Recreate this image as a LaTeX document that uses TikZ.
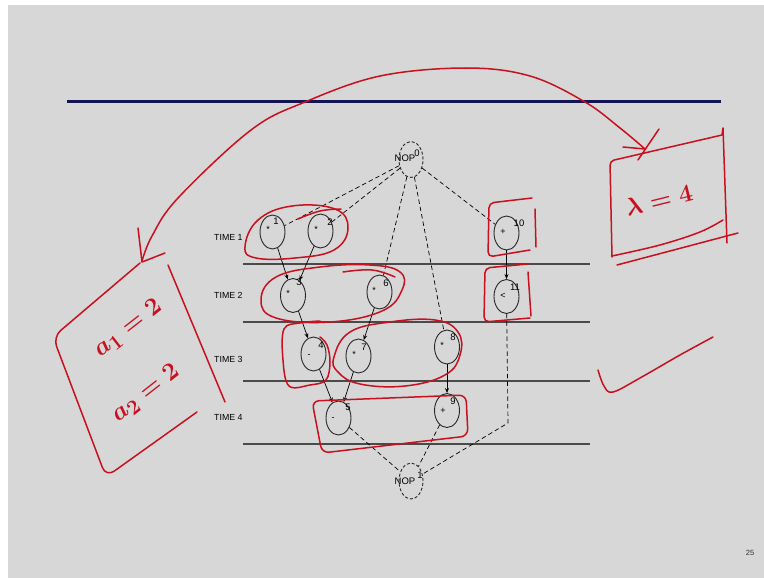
\documentclass[tikz,border=0pt]{standalone}
\usepackage{fontspec}
\setmainfont{Liberation Sans}
\usetikzlibrary{shapes.geometric,arrows.meta}
\definecolor{slide}{HTML}{D7D7D7}
\definecolor{inkred}{HTML}{C8101E}
\definecolor{rulecol}{HTML}{141452}
\definecolor{gridcol}{HTML}{4A4A4A}
\begin{document}
\begin{tikzpicture}[x=1pt,y=-1pt,
  font=\fontsize{9}{10}\selectfont,
  op/.style={draw=black!85, ellipse, minimum width=25pt, minimum height=34pt, inner sep=0pt, line width=0.9pt},
  nop/.style={op, dash pattern=on 3pt off 2pt, minimum width=24pt, minimum height=36pt},
  sym/.style={inner sep=0pt, font=\fontsize{9}{10}\selectfont},
  num/.style={inner sep=0pt, font=\fontsize{9.5}{10}\selectfont},
  timelbl/.style={inner sep=0pt, anchor=west, font=\fontsize{8.8}{10}\selectfont},
  dep/.style={-{Stealth[length=5pt,width=4pt]}, line width=0.7pt},
  ctl/.style={line width=0.7pt, dash pattern=on 4.5pt off 3pt},
  timerule/.style={draw=gridcol, line width=1.6pt},
  ink/.style={draw=inkred, line width=1.5pt, line cap=round, line join=round},
  hand/.style={text=inkred, inner sep=0pt},
  ]
  % slide background
  \fill[white] (0,0) rectangle (764,578);
  \fill[slide] (8,5) rectangle (764,578);

  % title rule
  \draw[draw=rulecol, line width=3pt] (67,102) -- (721,102);

  % time step separators
  \foreach \yy in {264,322,381,444} \draw[timerule] (243,\yy) -- (590,\yy);

  % time labels
  \node[timelbl] (time1) at (214,237) {TIME 1};
  \node[timelbl] (time2) at (214,295) {TIME 2};
  \node[timelbl] (time3) at (214,359) {TIME 3};
  \node[timelbl] (time4) at (214,417) {TIME 4};

  % operation nodes
  \node[nop] (nop0) at (411,159.5) {};
  \node[op] (n1) at (272.5,232) {};
  \node[op] (n2) at (320.5,231) {};
  \node[op] (n3) at (293,295.5) {};
  \node[op] (n6) at (379.5,292) {};
  \node[op] (n10) at (506.5,233) {};
  \node[op] (n11) at (506.5,296.5) {};
  \node[op] (n4) at (313.5,354) {};
  \node[op] (n7) at (358.5,356) {};
  \node[op] (n8) at (447,347) {};
  \node[op] (n5) at (338.5,418) {};
  \node[op] (n9) at (447,410.5) {};
  \node[nop] (nop1) at (411,481) {};

  % operator symbols
  \node[sym] (s1) at (268,229.5) {*};
  \node[sym] (s2) at (316,229.5) {*};
  \node[sym] (s3) at (288,293.5) {*};
  \node[sym] (s6) at (374,290.5) {*};
  \node[sym] (s10) at (503,232) {+};
  \node[sym] (s11) at (503,296) {<};
  \node[sym] (s4) at (309,356) {-};
  \node[sym] (s7) at (354,354.5) {*};
  \node[sym] (s8) at (442,345.5) {*};
  \node[sym] (s5) at (333,419) {-};
  \node[sym] (s9) at (443,411) {+};

  % node numbers
  \node[num] (l1) at (276,221) {1};
  \node[num] (l2) at (330,222) {2};
  \node[num] (l3) at (299,282) {3};
  \node[num] (l6) at (386,283) {6};
  \node[num] (l10) at (519,223) {10};
  \node[num] (l11) at (515,287) {11};
  \node[num] (l4) at (321,345) {4};
  \node[num] (l7) at (364,347) {7};
  \node[num] (l8) at (453,337) {8};
  \node[num] (l5) at (348,407) {5};
  \node[num] (l9) at (453,401) {9};
  \node[num] (t0) at (405,158) {NOP};
  \node[num] (l0) at (417,153) {0};
  \node[num] (t1) at (405,481) {NOP};
  \node[num] (l12) at (420,475) {1};

  % control edges from the start node
  \draw[ctl] (nop0) -- (n1);
  \draw[ctl] (nop0) -- (n2);
  \draw[ctl] (nop0) -- (n6);
  \draw[ctl] (nop0) -- (n8);
  \draw[ctl] (nop0) -- (n10);

  % data dependencies
  \draw[dep] (n1) -- (n3);
  \draw[dep] (n2) -- (n3);
  \draw[dep] (n3) -- (n4);
  \draw[dep] (n6) -- (n7);
  \draw[dep] (n8) -- (n9);
  \draw[dep] (n10) -- (n11);
  \draw[dep] (n4) -- (n5);
  \draw[dep] (n7) -- (n5);

  % control edges into the sink node
  \coordinate (bend) at (508,423);
  \draw[ctl] (n5) -- (nop1);
  \draw[ctl] (n9) -- (nop1);
  \draw[ctl] (n11) -- (bend) -- (nop1);

  % page number
  \node[inner sep=0pt, text=black!80, font=\fontsize{7.5}{8}\selectfont] (page) at (750,553) {25};

  % ---- hand annotations ----
  % groups of operations per step
  \draw[ink] plot[smooth cycle, tension=0.7] coordinates
    {(245,247) (258,220) (292,206) (335,209) (348,228) (334,250) (295,258) (256,258)};
  \draw[ink] plot[smooth, tension=0.7] coordinates {(298,219) (320,211) (341,209)};
  \draw[ink] plot[smooth cycle, tension=0.7] coordinates
    {(261,300) (276,277) (320,267) (370,265) (400,272) (402,290) (382,311) (330,322) (276,318)};
  \draw[ink] plot[smooth, tension=0.7] coordinates {(343,272) (372,270) (395,277)};
  \draw[ink] plot[smooth, tension=0.6] coordinates
    {(320,321) (300,323) (284,329) (283,360) (289,386) (310,385) (326,380) (330,362) (327,345) (320,337)};
  \draw[ink] plot[smooth cycle, tension=0.7] coordinates
    {(334,357) (350,332) (390,322) (435,320) (458,332) (460,355) (445,375) (405,386) (360,384) (338,372)};
  \draw[ink, rounded corners=7pt] (312,401) -- (466,395) -- (468,436) -- (322,453) -- cycle;
  \draw[ink, rounded corners=5pt] (532,198) -- (489,203) -- (488,257) -- (530,250);
  \draw[ink] (535,209) -- (536,247);
  \draw[ink, rounded corners=5pt] (528,264) -- (485,268) -- (484,322) -- (530,318);
  \draw[ink] (528,272) -- (531,316);

  % latency box on the right
  \draw[ink, rounded corners=4pt] (722,135) -- (610,161) -- (612,257);
  \draw[ink] (722,135) -- (723,128) -- (727,243);
  \draw[ink] plot[smooth, tension=0.6] coordinates {(612,256) (660,245) (700,232) (723,220)};
  \draw[ink] (617,265) -- (738,233);
  \node[hand, rotate=14, font=\fontsize{48}{48}\selectfont\boldmath] (lam) at (659,200) {$\lambda = 4$};

  % resource box on the left
  \draw[ink, rounded corners=10pt] (140,263) -- (53,337) -- (106,477) -- (197,412);
  \draw[ink] (168,265) -- (225,402);
  \node[hand, rotate=38, align=left, font=\fontsize{30}{62}\selectfont\boldmath] (res) at (137,361)
    {\hspace*{26pt}$a_1 = 2$\\$a_2 = 2$};

  % arrow linking the two boxes
  \draw[ink] plot[smooth, tension=0.6] coordinates
    {(142,261) (152,236) (178,198) (251,130) (305,102) (380,76) (466,68) (530,76) (585,102) (620,128) (645,149)};
  \draw[ink] (138,228) -- (142,262) -- (165,253);
  \draw[ink] (623,147) -- (645,149);
  \draw[ink] (638,160) -- (659,129);

  % check mark
  \draw[ink] plot[smooth, tension=0.6] coordinates {(598,370) (604,386) (613,392) (640,378) (680,355) (713,337)};
\end{tikzpicture}
\end{document}
